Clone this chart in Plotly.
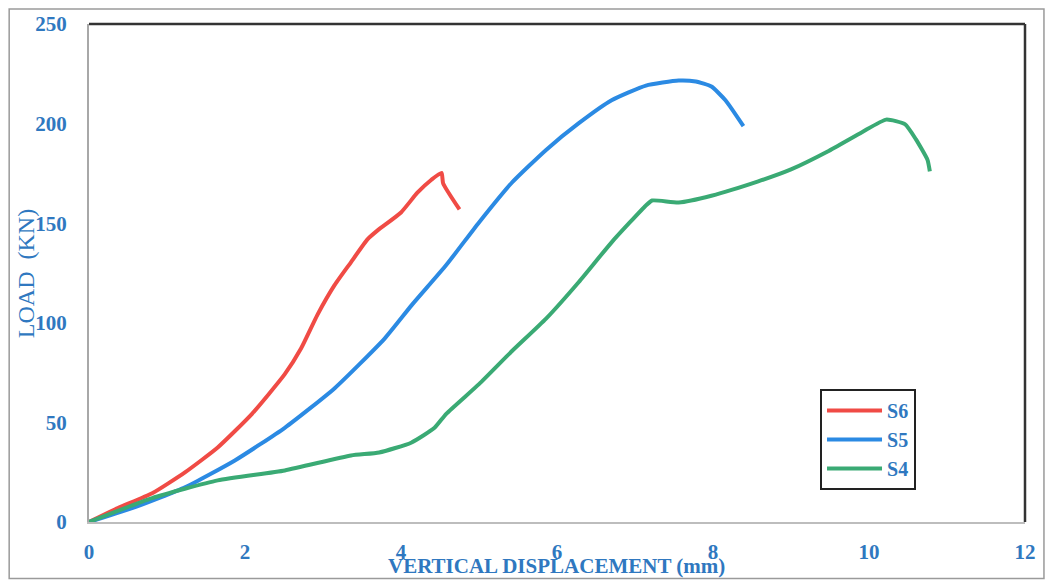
import plotly.graph_objects as go

# Load–displacement curves for the three specimens
s6_disp = [0.0, 0.37, 0.81, 1.23, 1.65, 2.09, 2.51, 2.72, 2.93, 3.15, 3.36, 3.57, 3.70, 4.00, 4.21, 4.39, 4.52, 4.54, 4.75]
s6_load = [0.0, 7.0, 14.4, 24.9, 37.4, 54.3, 74.2, 87.2, 104.1, 119.0, 130.5, 141.9, 146.4, 155.4, 165.3, 171.8, 175.3, 170.0, 156.9]

s5_disp = [0.0, 0.59, 1.23, 1.87, 2.51, 3.15, 3.79, 4.14, 4.58, 5.00, 5.42, 5.86, 6.28, 6.70, 7.14, 7.56, 7.78, 7.98, 8.16, 8.39]
s5_load = [0.0, 7.5, 17.4, 30.9, 47.3, 67.2, 92.1, 109.0, 129.0, 150.4, 170.3, 186.8, 200.2, 211.7, 219.1, 221.6, 221.1, 218.6, 211.7, 198.7]

s4_disp = [0.0, 0.81, 1.65, 2.51, 3.36, 3.72, 4.13, 4.43, 4.58, 5.00, 5.42, 5.86, 6.28, 6.70, 7.14, 7.22, 7.56, 7.98, 8.58, 9.00, 9.47, 9.91, 10.22, 10.46, 10.60, 10.75, 10.78]
s4_load = [0.0, 12.0, 20.9, 25.9, 33.4, 34.9, 39.8, 47.3, 54.3, 69.2, 85.7, 102.1, 120.5, 140.4, 158.9, 161.4, 160.4, 163.8, 171.0, 177.0, 186.0, 195.7, 202.0, 199.7, 192.2, 181.8, 176.0]

series_names = ["S6", "S5", "S4"]
series_colors = ["#f04b45", "#2b8ae3", "#3aaa74"]

x_ticks = [0, 2, 4, 6, 8, 10, 12]
y_ticks = [0, 50, 100, 150, 200, 250]

TEXT_BLUE = "#2f78c0"
SERIF = "Liberation Serif"

fig = go.Figure()
for name, xs, ys, color in zip(series_names,
                               [s6_disp, s5_disp, s4_disp],
                               [s6_load, s5_load, s4_load],
                               series_colors):
    fig.add_trace(go.Scatter(x=xs, y=ys, name=name, mode="lines",
                             line=dict(color=color, width=4, shape="spline", smoothing=0.5)))

fig.update_layout(
    width=1048, height=582,
    margin=dict(l=89, r=21, t=20, b=60),
    paper_bgcolor="white", plot_bgcolor="white",
    font=dict(family=SERIF, color=TEXT_BLUE, size=19),
    showlegend=True,
    legend=dict(
        x=0.781, y=0.267, xanchor="left", yanchor="top",
        bordercolor="#222222", borderwidth=2, bgcolor="white",
        font=dict(family=SERIF, size=20, color=TEXT_BLUE, weight="bold"),
        itemwidth=55, tracegroupgap=0,
    ),
    xaxis=dict(
        range=[0, 12], tickvals=x_ticks, ticktext=[str(v) for v in x_ticks],
        showgrid=False, zeroline=False, showline=True, linecolor="#bdbdbd", linewidth=2,
        ticks="", ticklabelstandoff=10,
        tickfont=dict(family=SERIF, size=21, color=TEXT_BLUE, weight="bold"),
    ),
    yaxis=dict(
        range=[0, 250], tickvals=y_ticks, ticktext=[str(v) for v in y_ticks],
        showgrid=False, zeroline=False, showline=True, linecolor="#a8a8a8", linewidth=2,
        ticks="", ticklabelstandoff=16,
        tickfont=dict(family=SERIF, size=21, color=TEXT_BLUE, weight="bold"),
    ),
)

# dark top and right edges of the plotting frame
fig.add_shape(type="line", xref="paper", yref="paper", x0=0, x1=1, y0=1, y1=1,
              line=dict(color="#333333", width=2.5))
fig.add_shape(type="line", xref="paper", yref="paper", x0=1, x1=1, y0=0, y1=1,
              line=dict(color="#333333", width=2.5))

# thin outer border around the whole figure
fig.add_shape(type="rect", xref="paper", yref="paper",
              x0=-80 / 938, x1=1 + 19 / 938, y0=-57 / 502, y1=1 + 15 / 502,
              line=dict(color="#9a9a9a", width=1.5))

fig.add_annotation(text="VERTICAL DISPLACEMENT (mm)", xref="paper", yref="paper",
                   x=(557 - 89) / 938, y=(522 - 566) / 502, showarrow=False,
                   xanchor="center", yanchor="middle",
                   font=dict(family=SERIF, size=21, color=TEXT_BLUE, weight="bold"))
fig.add_annotation(text="LOAD  (KN)", xref="paper", yref="paper",
                   x=(26 - 89) / 938, y=(522 - 272) / 502, showarrow=False,
                   xanchor="center", yanchor="middle", textangle=-90,
                   font=dict(family=SERIF, size=24, color=TEXT_BLUE))

fig.write_html("out.html")
